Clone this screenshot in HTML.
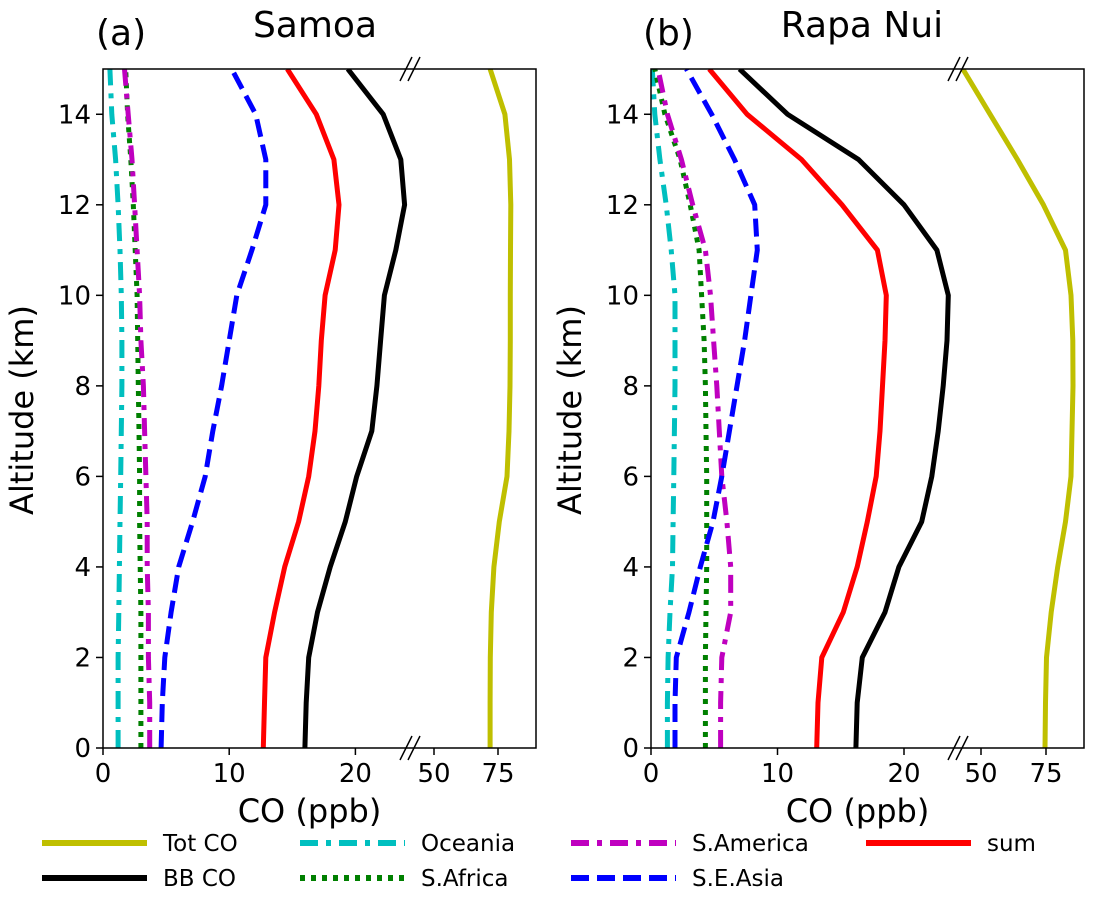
<!DOCTYPE html>
<html><head><meta charset="utf-8"><style>
body{margin:0;background:#fff;}
svg{font-family:"DejaVu Sans","Liberation Sans",sans-serif;}
</style></head><body>
<svg id="c" width="1094" height="896"></svg>
<script>
const alts=[0,1,2,3,4,5,6,7,8,9,10,11,12,13,14,15];
// Panel (a) Samoa
const aTot=[71.9,71.9,72.0,72.4,73.4,75.5,78.5,79.3,79.7,79.8,79.8,79.9,80.0,79.5,77.7,71.9];
const aBB=[16.0,16.1,16.3,17.0,18.0,19.2,20.1,21.3,21.7,22.0,22.3,23.2,23.9,23.6,22.2,19.4];
const aSum=[12.7,12.8,12.9,13.6,14.4,15.5,16.3,16.8,17.1,17.3,17.6,18.4,18.7,18.3,16.9,14.6];
const aSEA=[4.6,4.7,4.9,5.4,6.0,7.1,8.1,8.7,9.4,10.0,10.6,11.8,12.9,12.9,12.1,10.2];
const aSAm=[3.7,3.7,3.6,3.6,3.5,3.5,3.4,3.3,3.2,3.0,2.9,2.7,2.5,2.3,2.0,1.7];
const aSAf=[3.0,3.0,3.0,3.0,2.95,2.9,2.9,2.85,2.8,2.75,2.7,2.55,2.4,2.2,1.95,1.8];
const aOce=[1.2,1.2,1.2,1.25,1.3,1.35,1.4,1.45,1.5,1.5,1.45,1.35,1.2,1.0,0.7,0.55];
// Panel (b) Rapa Nui
const bTot=[74.6,74.8,75.2,77.0,79.5,82.5,84.6,85.0,85.4,85.3,84.6,82.5,74.0,64.0,53.5,43.0];
const bBB=[16.2,16.3,16.7,18.5,19.6,21.4,22.2,22.7,23.1,23.4,23.5,22.6,20.0,16.4,10.8,7.0];
const bSum=[13.1,13.2,13.5,15.2,16.3,17.1,17.8,18.1,18.3,18.5,18.6,17.9,15.1,11.9,7.6,4.6];
const bSEA=[1.9,1.9,2.0,3.0,3.9,4.9,5.6,6.2,6.8,7.4,7.9,8.4,8.2,6.6,4.8,2.8];
const bSAm=[5.5,5.5,5.6,6.3,6.3,6.0,5.6,5.4,5.2,4.95,4.7,4.3,3.3,2.4,1.3,0.55];
const bSAf=[4.3,4.3,4.3,4.35,4.4,4.4,4.4,4.35,4.3,4.2,4.0,3.8,3.1,2.3,1.1,0.3];
const bOce=[1.3,1.3,1.35,1.5,1.7,1.75,1.8,1.85,1.9,1.9,1.9,1.6,1.2,0.7,0.3,0.1];
const yTicks=[0,2,4,6,8,10,12,14];
const xTicksL=[0,10,20];
const xTicksR=[50,75];

const NS="http://www.w3.org/2000/svg";
const svg=document.getElementById('c');
function mk(t,a,p){const e=document.createElementNS(NS,t);for(const k in a)e.setAttribute(k,a[k]);(p||svg).appendChild(e);return e;}
const Y0=748,Y1=69;
function ys(v){return Y0+(Y1-Y0)*v/15;}
const styles={
 tot:{c:'#bfbf00',d:''},bb:{c:'#000',d:''},sum:{c:'#ff0000',d:''},
 sea:{c:'#0000ff',d:'18,8'},sam:{c:'#bf00bf',d:'18,8,5,8'},saf:{c:'#008000',d:'5,6'},oce:{c:'#00bfbf',d:'18,8,5,8'}
};
function panel(p){
 const g=mk('g',{});
 
 
 function xs(v){return v<=p.brk?p.x0+v*p.kL:p.r50+(v-50)*p.kR;}
 const series=[['oce',p.oce],['saf',p.saf],['sam',p.sam],['sea',p.sea],['sum',p.sum],['bb',p.bb],['tot',p.tot]];
 const cp=mk('clipPath',{id:'cp'+p.id},g);mk('rect',{x:p.x0,y:Y1,width:p.x1-p.x0,height:Y0-Y1},cp);
 for(const [k,arr] of series){
  const d=arr.map((v,i)=>(i?'L':'M')+xs(v).toFixed(1)+','+ys(alts[i]).toFixed(1)).join('');
  const e=mk('path',{d:d,fill:'none',stroke:styles[k].c,'stroke-width':5,'stroke-dasharray':styles[k].d,'stroke-linejoin':'round','clip-path':'url(#cp'+p.id+')'},g);
  
  
 }
 mk('rect',{x:p.x0,y:Y1,width:p.x1-p.x0,height:Y0-Y1,fill:'none',stroke:'#000','stroke-width':1.5},g);
 for(const t of yTicks){
  mk('line',{x1:p.x0-7,x2:p.x0,y1:ys(t),y2:ys(t),stroke:'#000','stroke-width':1.5},g);
  const tx=mk('text',{x:p.x0-12,y:ys(t)+9,'text-anchor':'end','font-size':26},g);tx.textContent=t;
 }
 for(const t of xTicksL.concat(xTicksR)){
  const x=xs(t);
  mk('line',{x1:x,x2:x,y1:Y0,y2:Y0+7,stroke:'#000','stroke-width':1.5},g);
  const tx=mk('text',{x:x,y:Y0+34,'text-anchor':'middle','font-size':26},g);tx.textContent=t;
 }
 for(const yy of [Y0,Y1]){
  for(const dx of [-4,4]){
   mk('line',{x1:p.bx+dx-6,y1:yy+12,x2:p.bx+dx+6,y2:yy-12,stroke:'#000','stroke-width':1.5},g);
  }
 }
 const lab=mk('text',{x:p.lx,y:45,'font-size':36},g);lab.textContent=p.lab;
 const ti=mk('text',{x:p.tx,y:37,'text-anchor':'middle','font-size':36},g);ti.textContent=p.title;
 const xl=mk('text',{x:(p.x0+p.x1)/2-10,y:822,'text-anchor':'middle','font-size':32},g);xl.textContent='CO (ppb)';
 
 const yl=mk('text',{x:0,y:0,'text-anchor':'middle','font-size':32,transform:`translate(${p.x0-70},410) rotate(-90)`},g);yl.textContent='Altitude (km)';
 
}
panel({id:'a',name:'panel-samoa',x0:103,x1:536,kL:12.62,brk:30,r50:434,kR:2.56,bx:410,lab:'(a)',lx:96,title:'Samoa',tx:315,
 tot:aTot,bb:aBB,sum:aSum,sea:aSEA,sam:aSAm,saf:aSAf,oce:aOce});
panel({id:'b',name:'panel-rapa-nui',x0:651,x1:1084,kL:12.65,brk:30,r50:981,kR:2.6,bx:958,lab:'(b)',lx:643,title:'Rapa Nui',tx:862,
 tot:bTot,bb:bBB,sum:bSum,sea:bSEA,sam:bSAm,saf:bSAf,oce:bOce});
// legend
const leg=[['tot','Tot CO',42,843],['bb','BB CO',42,878],['oce','Oceania',300,843],['saf','S.Africa',300,878],['sam','S.America',571,843],['sea','S.E.Asia',571,878],['sum','sum',866,843]];
const lg=mk('g',{});


for(const [k,t,x,y] of leg){
 const e=mk('g',{},lg);
 
 
 mk('line',{x1:x,x2:x+105,y1:y,y2:y,stroke:styles[k].c,'stroke-width':6,'stroke-dasharray':styles[k].d},e);
 const tx=mk('text',{x:x+121,y:y+8,'font-size':23},e);tx.textContent=t;
}
</script>
</body></html>
